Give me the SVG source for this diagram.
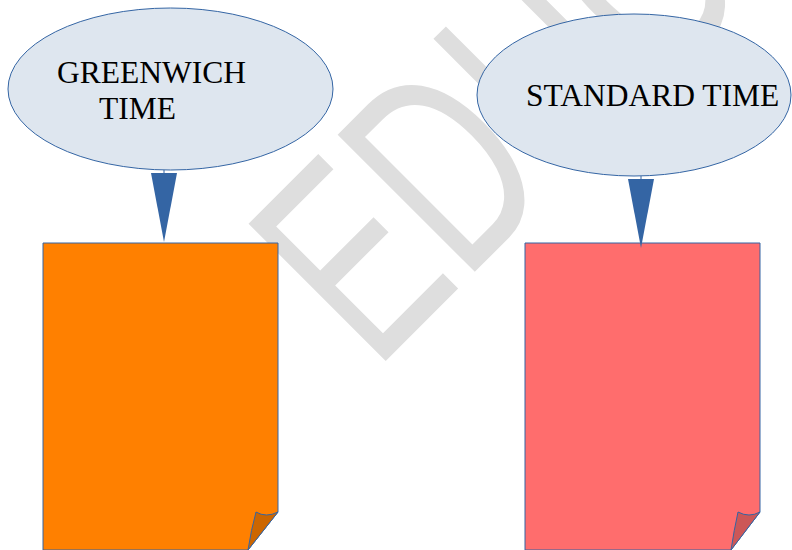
<svg xmlns="http://www.w3.org/2000/svg" width="792" height="550" viewBox="0 0 792 550">
  <style>
    .bubble { fill: #dee6ef; stroke: #3465a4; stroke-width: 1; }
    .label { font-family: "Liberation Serif", "Times New Roman", serif; font-size: 31.5px; fill: #000000; }
    .page { stroke: #3465a4; stroke-width: 1; stroke-linejoin: round; }
    .conn-line { stroke: #3465a4; stroke-width: 1; fill: none; }
    .conn-head { fill: #3465a4; stroke: none; }
    .wm { font-family: "Liberation Sans", Arial, sans-serif; font-size: 282px; fill: #dedede; }
  </style>
  <rect x="0" y="0" width="792" height="550" fill="#ffffff"/>
  <g id="watermark">
    <text class="wm" transform="rotate(-45) scale(0.67,1)" x="3" y="528">EDUCATION</text>
  </g>
  <g id="greenwich-time">
    <ellipse class="bubble" cx="170.5" cy="89" rx="162.5" ry="81"/>
    <text class="label" x="57" y="83">GREENWICH</text>
    <text class="label" x="99" y="119">TIME</text>
  </g>
  <g id="standard-time">
    <ellipse class="bubble" cx="634" cy="95" rx="157" ry="81"/>
    <text class="label" x="526" y="106">STANDARD TIME</text>
  </g>
  <g id="greenwich-page">
    <path class="page" fill="#ff8000" d="M43,243 H278 V512 L248,550 H43 Z"/>
    <path class="page" fill="#cc6600" d="M256,512 Q266,518 278,512 L248,550 Q251,530 256,512 Z"/>
  </g>
  <g id="standard-page">
    <path class="page" fill="#ff6d6d" d="M525,243 H760 V512 L731,550 H525 Z"/>
    <path class="page" fill="#cc5757" d="M738,512 Q749,518 760,512 L731,550 Q734,530 738,512 Z"/>
  </g>
  <g id="connectors">
    <line class="conn-line" x1="164" y1="170" x2="164" y2="174"/>
    <polygon class="conn-head" points="151,173 177,173 164,242"/>
    <line class="conn-line" x1="641" y1="176" x2="641" y2="180"/>
    <polygon class="conn-head" points="628,179 654,179 641,248"/>
  </g>
</svg>
